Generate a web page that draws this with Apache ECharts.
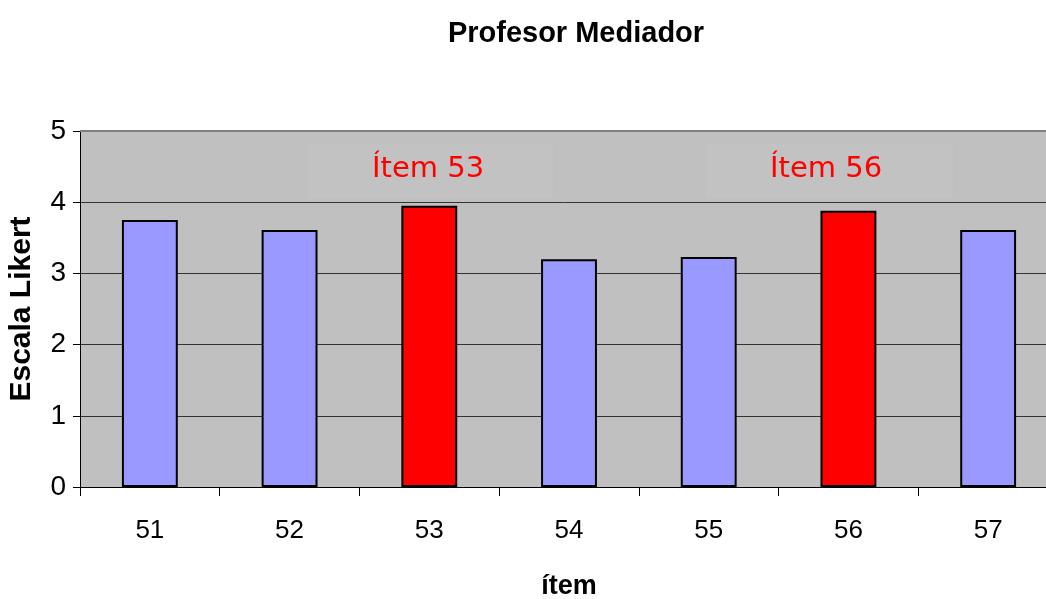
<!DOCTYPE html>
<html>
<head>
<meta charset="utf-8">
<script src="https://cdn.jsdelivr.net/npm/echarts@6/dist/echarts.min.js"></script>
<style>
html,body{margin:0;padding:0;background:#fff;}
#c{width:1046px;height:599px;}
</style>
</head>
<body>
<div id="c"></div>
<script>
var categories = ['51','52','53','54','55','56','57'];
var values = [3.75, 3.61, 3.95, 3.20, 3.23, 3.88, 3.61];
var highlighted = ['53','56'];
var yTicks = [0,1,2,3,4,5];
var annotations = ['Ítem 53','Ítem 56'];

var chart = echarts.init(document.getElementById('c'), null, {renderer:'canvas'});
var barData = values.map(function(v,i){
  var hi = highlighted.indexOf(categories[i]) >= 0;
  return {value:v, itemStyle:{color: hi ? '#ff0000' : '#9999ff'}};
});
var option = {
  backgroundColor:'#ffffff',
  animation:false,
  title:{
    text:'Profesor Mediador', left:571, top:14, textAlign:'center',
    textStyle:{fontFamily:'Liberation Sans', fontWeight:'bold', fontSize:29, color:'#000'}
  },
  grid:{left:80, right:-12, top:131, bottom:112, show:true, backgroundColor:'#c0c0c0', borderWidth:0,
        outerBoundsMode:'none', containLabel:false},
  xAxis:{
    type:'category', data:categories,
    name:'ítem', nameLocation:'middle', nameGap:86,
    nameTextStyle:{fontFamily:'Liberation Sans', fontWeight:'bold', fontSize:27, color:'#000'},
    axisLine:{lineStyle:{color:'#000', width:1}},
    axisTick:{show:true, length:9, lineStyle:{color:'#000'}},
    axisLabel:{fontFamily:'Liberation Sans', fontSize:26, color:'#000', margin:31}
  },
  yAxis:{
    type:'value', min:0, max:5, interval:1,
    name:'Escala Likert', nameLocation:'middle', nameGap:43,
    nameTextStyle:{fontFamily:'Liberation Sans', fontWeight:'bold', fontSize:30, color:'#000'},
    axisLine:{show:true, lineStyle:{color:'#000', width:1}},
    axisTick:{show:true, length:7, lineStyle:{color:'#000'}},
    axisLabel:{fontFamily:'Liberation Sans', fontSize:28, color:'#000', margin:14,
      formatter:function(v){return yTicks.indexOf(v)>=0 ? String(v) : '';}},
    splitLine:{show:true, lineStyle:{color:'#333', width:1}}
  },
  graphic:[
    {type:'line', shape:{x1:80,y1:131,x2:1046,y2:131}, style:{stroke:'#808080', lineWidth:2}, z:5},
    {type:'rect', shape:{x:308,y:143,width:245,height:55}, style:{fill:'#c2c2c2'}, z:1, silent:true},
    {type:'rect', shape:{x:706,y:143,width:247,height:55}, style:{fill:'#c2c2c2'}, z:1, silent:true},
    {type:'text', left:372, top:155, z:10,
      style:{text:annotations[0], fill:'#ff0000', fontFamily:'DejaVu Sans', fontSize:29}},
    {type:'text', left:770, top:155, z:10,
      style:{text:annotations[1], fill:'#ff0000', fontFamily:'DejaVu Sans', fontSize:29}}
  ],
  series:[{
    type:'bar', data:barData, barWidth:'40%',
    itemStyle:{borderColor:'#000', borderWidth:2}
  }]
};
chart.setOption(option);
</script>
</body>
</html>
